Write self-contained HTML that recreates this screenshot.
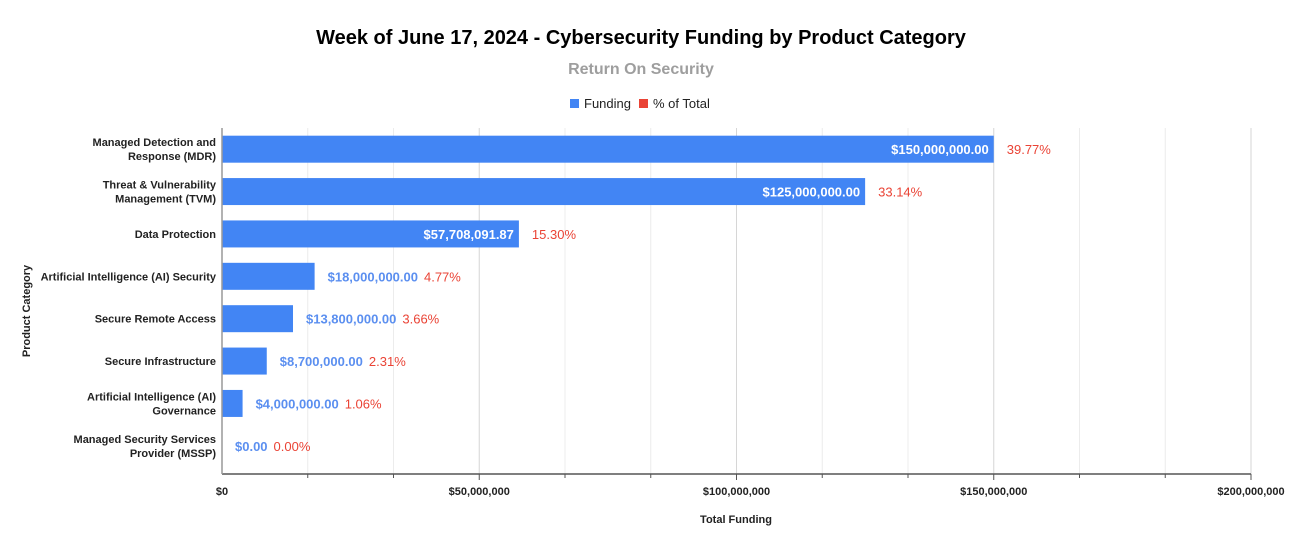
<!DOCTYPE html>
<html><head><meta charset="utf-8"><style>
body{margin:0;background:#fff;font-family:"Liberation Sans",Arial,sans-serif}
svg{display:block}
</style></head><body>
<svg id="chart" width="1292" height="551">
<text x="641" y="44" text-anchor="middle" font-size="20" font-weight="bold" fill="#000">Week of June 17, 2024 - Cybersecurity Funding by Product Category</text>
<text x="641" y="74" text-anchor="middle" font-size="16" font-weight="bold" fill="#9e9e9e">Return On Security</text>
<g>
<g><rect x="570" y="99" width="9" height="9" fill="#4285f4"/><text x="584" y="108" font-size="13" fill="#222">Funding</text></g>
<g><rect x="639" y="99" width="9" height="9" fill="#ea4335"/><text x="653" y="108" font-size="13" fill="#222">% of Total</text></g>
</g>
<g id="grid"></g><g id="bars"></g><g id="axis"></g>
<text x="736" y="523" text-anchor="middle" font-size="11" font-weight="bold" fill="#222">Total Funding</text>
<text transform="translate(30,311) rotate(-90)" text-anchor="middle" font-size="11" font-weight="bold" fill="#222">Product Category</text>
</svg>
<script>
const categories=[["Managed Detection and","Response (MDR)"],["Threat & Vulnerability","Management (TVM)"],["Data Protection"],["Artificial Intelligence (AI) Security"],["Secure Remote Access"],["Secure Infrastructure"],["Artificial Intelligence (AI)","Governance"],["Managed Security Services","Provider (MSSP)"]];
const funding=[150000000,125000000,57708091.87,18000000,13800000,8700000,4000000,0];
const fundingLabels=["$150,000,000.00","$125,000,000.00","$57,708,091.87","$18,000,000.00","$13,800,000.00","$8,700,000.00","$4,000,000.00","$0.00"];
const percentLabels=["39.77%","33.14%","15.30%","4.77%","3.66%","2.31%","1.06%","0.00%"];
const xTicks=[0,50000000,100000000,150000000,200000000];
const xTickLabels=["$0","$50,000,000","$100,000,000","$150,000,000","$200,000,000"];
const NS="http://www.w3.org/2000/svg";
const X0=222,X1=1251,XMAX=200000000,Y0=128,Y1=474,B0=128,B1=467;
const band=(B1-B0)/categories.length;
const x=v=>X0+v/XMAX*(X1-X0);
const yc=i=>B0+band*(i+0.5);
function mk(tag,attrs,parent,text){const e=document.createElementNS(NS,tag);for(const k in attrs)e.setAttribute(k,attrs[k]);if(text!=null)e.textContent=text;parent.appendChild(e);return e;}
const grid=document.getElementById('grid'),bars=document.getElementById('bars'),axis=document.getElementById('axis');
for(let k=1;k<=12;k++){const v=XMAX*k/12;const gx=x(v);const major=k%3===0;
 const l=mk('line',{x1:gx,x2:gx,y1:Y0,y2:Y1,stroke:major?'#d6d6d6':'#ececec','stroke-width':1},grid);
 
 
 const t=mk('line',{x1:gx,x2:gx,y1:Y1,y2:Y1+(major?6:4),stroke:'#555'},axis);
 
 }
const al=mk('line',{x1:X0,x2:X1,y1:Y1,y2:Y1,stroke:'#555','stroke-width':1.5},axis);


const yl=mk('line',{x1:X0,x2:X0,y1:Y0,y2:Y1,stroke:'#999','stroke-width':1.5},axis);


xTicks.forEach((v,i)=>{const t=mk('text',{x:x(v),y:495,'text-anchor':'middle','font-size':11,'font-weight':'bold',fill:'#222'},axis,xTickLabels[i]);
 
 });
categories.forEach((lines,i)=>{const c=yc(i);const n=lines.length;
 lines.forEach((s,j)=>{const t=mk('text',{x:216,y:c+4+(j-(n-1)/2)*14,'text-anchor':'end','font-size':11,'font-weight':'bold',fill:'#222'},axis,s);
 
 });
 const w=x(funding[i])-X0;
 const r=mk('rect',{x:X0,y:c-13.5,width:w,height:27,fill:'#4285f4'},bars);
 
 
 const tmp=mk('text',{'font-size':13,'font-weight':'bold'},bars,fundingLabels[i]);const lw=tmp.getComputedTextLength();tmp.remove();
 let px;
 if(lw+12<w){const t=mk('text',{x:x(funding[i])-5,y:c+5,'text-anchor':'end','font-size':13,'font-weight':'bold',fill:'#fff'},bars,fundingLabels[i]);
  
  
  px=x(funding[i])+13;}
 else{const t=mk('text',{x:x(funding[i])+13,y:c+5,'font-size':13,'font-weight':'bold',fill:'#5b8ff0'},bars,fundingLabels[i]);
  
  
  px=x(funding[i])+13+lw+6;}
 const p=mk('text',{x:px,y:c+5,'font-size':13,fill:'#ea4335'},bars,percentLabels[i]);
 
 
});
</script>
</body></html>
